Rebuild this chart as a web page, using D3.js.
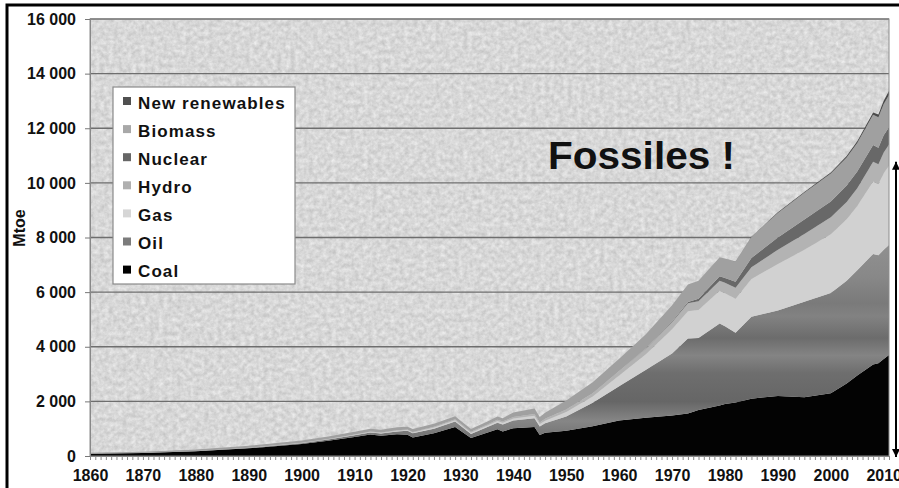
<!DOCTYPE html>
<html>
<head>
<meta charset="utf-8">
<title>World primary energy, Mtoe</title>
<script src="https://cdn.jsdelivr.net/npm/d3@7"></script>
<style>
  body { margin: 0; background: #fff; }
  svg { display: block; font-family: "Liberation Sans", Arial, sans-serif; font-weight: bold; }
</style>
</head>
<body>
<div id="chart"></div>
<script>
// values, Mtoe
var years   = [1860,1870,1880,1890,1900,1905,1910,1913,1915,1918,1920,1921,1925,1929,1932,1935,1937,1938,1940,1944,1945,1946,1950,1955,1960,1965,1970,1973,1975,1979,1980,1982,1985,1990,1995,2000,2003,2005,2008,2009,2010,2011];
var coal    = [80,110,170,280,440,560,700,790,740,800,780,680,830,1060,660,850,980,900,1020,1060,770,850,920,1090,1300,1400,1480,1560,1680,1850,1900,1960,2100,2200,2150,2300,2650,2950,3350,3400,3550,3700];
var oil     = [0,0,5,15,30,40,60,70,80,100,140,150,170,200,150,200,240,250,280,320,310,350,530,860,1250,1750,2270,2740,2640,3000,2850,2550,3000,3130,3500,3670,3770,3850,4050,3950,4000,4025];
var gas     = [0,0,2,5,10,12,18,20,22,25,28,28,40,50,45,55,65,65,75,95,90,95,160,230,400,570,890,1000,1030,1200,1210,1250,1380,1700,1900,2150,2250,2350,2650,2600,2800,2900];
var hydro   = [0,0,0,2,5,8,12,15,17,20,22,22,28,35,35,40,45,47,50,60,60,65,90,120,160,200,260,290,320,370,380,400,430,520,580,620,630,650,720,730,760,780];
var nuclear = [0,0,0,0,0,0,0,0,0,0,0,0,0,0,0,0,0,0,0,0,0,0,0,0,0,5,20,50,90,160,180,220,340,450,530,580,600,620,620,610,630,630];
var biomass = [40,50,60,70,80,90,100,105,105,105,105,105,110,110,100,110,120,120,170,200,200,220,330,400,450,520,600,640,660,700,710,730,770,900,980,1020,1030,1040,1100,1110,1150,1180];
var newRenewables = [0,0,0,0,0,0,0,0,0,0,0,0,0,0,0,0,0,0,0,0,0,0,0,0,0,0,0,0,0,0,5,8,10,20,30,40,50,60,90,100,120,150];

var seriesNames = ["Coal", "Oil", "Gas", "Hydro", "Nuclear", "Biomass", "New renewables"];
var yTicks = [0, 2000, 4000, 6000, 8000, 10000, 12000, 14000, 16000];
var xTicks = [1860, 1870, 1880, 1890, 1900, 1910, 1920, 1930, 1940, 1950, 1960, 1970, 1980, 1990, 2000, 2010];

var rows = years.map(function (yr, i) {
  return {
    year: yr, "Coal": coal[i], "Oil": oil[i], "Gas": gas[i], "Hydro": hydro[i],
    "Nuclear": nuclear[i], "Biomass": biomass[i], "New renewables": newRenewables[i]
  };
});

var colors = {
  "Coal": "#030303",
  "Oil": "url(#oilGrad)",
  "Gas": "#d1d1d1",
  "Hydro": "#b3b3b3",
  "Nuclear": "#686868",
  "Biomass": "#a0a0a0",
  "New renewables": "#4a4a4a"
};
var legendColors = {
  "Coal": "#000",
  "Oil": "#7c7c7c",
  "Gas": "#d6d6d6",
  "Hydro": "#b0b0b0",
  "Nuclear": "#666",
  "Biomass": "#a8a8a8",
  "New renewables": "#505050"
};

const W = 899, H = 488;
const margin = { top: 19, right: 10, bottom: 32, left: 90 };
const pw = W - margin.left - margin.right,
      ph = H - margin.top - margin.bottom;

var svg = d3.select("#chart").append("svg")
  .attr("width", W).attr("height", H);

var defs = svg.append("defs");

// granite-like background
var f = defs.append("filter").attr("id", "granite")
  .attr("x", 0).attr("y", 0).attr("width", 1).attr("height", 1)
  .attr("color-interpolation-filters", "sRGB");
f.append("feTurbulence").attr("type", "fractalNoise")
  .attr("baseFrequency", 0.22).attr("numOctaves", 3).attr("seed", 11);
f.append("feColorMatrix").attr("type", "matrix")
  .attr("values", "0.2 0 0 0 0.745  0.2 0 0 0 0.745  0.2 0 0 0 0.745  0 0 0 0 1");

var x = d3.scaleLinear().domain([1860, 2011]).range([margin.left, margin.left + pw]);
var y = d3.scaleLinear().domain([0, 16000]).range([margin.top + ph, margin.top]);

var og = defs.append("linearGradient").attr("id", "oilGrad")
  .attr("gradientUnits", "userSpaceOnUse")
  .attr("x1", 0).attr("x2", 0).attr("y1", y(8000)).attr("y2", y(0));
[[0, "#929292"], [0.18, "#888888"], [0.3, "#7a7a7a"], [0.36, "#828282"], [0.46, "#6c6c6c"],
 [0.54, "#848484"], [0.62, "#6e6e6e"], [0.75, "#666666"], [0.84, "#868686"], [1, "#5e5e5e"]]
  .forEach(function (s) { og.append("stop").attr("offset", s[0]).attr("stop-color", s[1]); });

var mk = defs.append("marker").attr("id", "arrowHead")
  .attr("viewBox", "0 0 10 10").attr("refX", 10).attr("refY", 5)
  .attr("markerWidth", 11).attr("markerHeight", 8)
  .attr("markerUnits", "userSpaceOnUse")
  .attr("orient", "auto-start-reverse");
mk.append("path").attr("d", "M0,0 L10,5 L0,10 z").attr("fill", "#000");

// plot background
svg.append("rect")
  .attr("x", margin.left).attr("y", margin.top)
  .attr("width", pw).attr("height", ph)
  .attr("fill", "#d6d6d6")
  .attr("filter", "url(#granite)");

// gridlines
svg.append("g").selectAll("line")
  .data(yTicks.filter(function (d) { return d > 0; }))
  .enter().append("line")
  .attr("x1", margin.left).attr("x2", margin.left + pw)
  .attr("y1", function (d) { return y(d); }).attr("y2", function (d) { return y(d); })
  .attr("stroke", "#6e6e6e").attr("stroke-width", 1.3);

// stacked areas
var stacked = d3.stack().keys(seriesNames)(rows);
var area = d3.area()
  .x(function (d) { return x(d.data.year); })
  .y0(function (d) { return y(d[0]); })
  .y1(function (d) { return y(d[1]); });

svg.append("g").selectAll("path")
  .data(stacked)
  .enter().append("path")
  .attr("d", area)
  .attr("fill", function (d) { return colors[d.key]; });

// plot frame
svg.append("rect")
  .attr("x", margin.left).attr("y", margin.top)
  .attr("width", pw).attr("height", ph)
  .attr("fill", "none").attr("stroke", "#8c8c8c").attr("stroke-width", 1);

// axes
var fmt = d3.formatLocale({ decimal: ".", thousands: " ", grouping: [3], currency: ["", ""] }).format(",");

var yAxis = svg.append("g")
  .attr("transform", "translate(" + margin.left + ",0)")
  .call(d3.axisLeft(y).tickValues(yTicks).tickSize(5).tickPadding(9).tickFormat(fmt));
yAxis.select(".domain").attr("stroke", "#888");
yAxis.selectAll(".tick line").attr("stroke", "#777");
yAxis.selectAll("text")
  .attr("font-size", 16).attr("font-weight", "bold")
  .attr("font-family", "Liberation Sans, Arial, sans-serif").attr("fill", "#111");

var yearTicks = d3.range(1860, 2012);
var xMinor = svg.append("g")
  .attr("transform", "translate(0," + (margin.top + ph) + ")")
  .call(d3.axisBottom(x).tickValues(yearTicks).tickSize(4).tickFormat(""));
xMinor.select(".domain").attr("stroke", "#888");
xMinor.selectAll(".tick line").attr("stroke", "#8a8a8a");

var xAxis = svg.append("g")
  .attr("transform", "translate(0," + (margin.top + ph) + ")")
  .call(d3.axisBottom(x).tickValues(xTicks).tickSize(0).tickPadding(14).tickFormat(d3.format("d")));
xAxis.select(".domain").remove();
xAxis.selectAll("text")
  .attr("font-size", 16).attr("font-weight", "bold")
  .attr("font-family", "Liberation Sans, Arial, sans-serif").attr("fill", "#111");

// y label
svg.append("text")
  .attr("transform", "translate(19," + 228 + ") rotate(-90)")
  .attr("text-anchor", "middle").attr("dy", "0.36em")
  .attr("font-size", 16).attr("fill", "#111")
  .text("Mtoe");

// legend
var legendItems = seriesNames.slice().reverse();
var lg = svg.append("g");
lg.append("rect")
  .attr("x", 113).attr("y", 87).attr("width", 182).attr("height", 197)
  .attr("fill", "#fff").attr("stroke", "#8a8a8a").attr("stroke-width", 1.2);
var li = lg.selectAll(".item").data(legendItems).enter().append("g")
  .attr("transform", function (d, i) { return "translate(0," + (i * 28.1) + ")"; });
li.append("rect")
  .attr("x", 123).attr("y", 97).attr("width", 8).attr("height", 8)
  .attr("fill", function (d) { return legendColors[d]; });
li.append("text")
  .attr("x", 138).attr("y", 108.8)
  .attr("font-size", 17).attr("letter-spacing", "1.1px").attr("fill", "#111")
  .text(function (d) { return d; });

// annotation
svg.append("text")
  .attr("x", 548).attr("y", 169)
  .attr("font-size", 38).attr("fill", "#111")
  .attr("textLength", 187).attr("lengthAdjust", "spacingAndGlyphs")
  .text("Fossiles !");

var last = rows[rows.length - 1];
var fossilTop = last["Coal"] + last["Oil"] + last["Gas"];
svg.append("line")
  .attr("x1", 896).attr("x2", 896)
  .attr("y1", y(fossilTop) - 4).attr("y2", y(0) + 1)
  .attr("stroke", "#000").attr("stroke-width", 2)
  .attr("marker-start", "url(#arrowHead)")
  .attr("marker-end", "url(#arrowHead)");

// outer frame (top and left edges visible)
svg.append("path")
  .attr("d", "M7," + H + " L7,5 L" + W + ",5")
  .attr("fill", "none").attr("stroke", "#000").attr("stroke-width", 3);
</script>
</body>
</html>
